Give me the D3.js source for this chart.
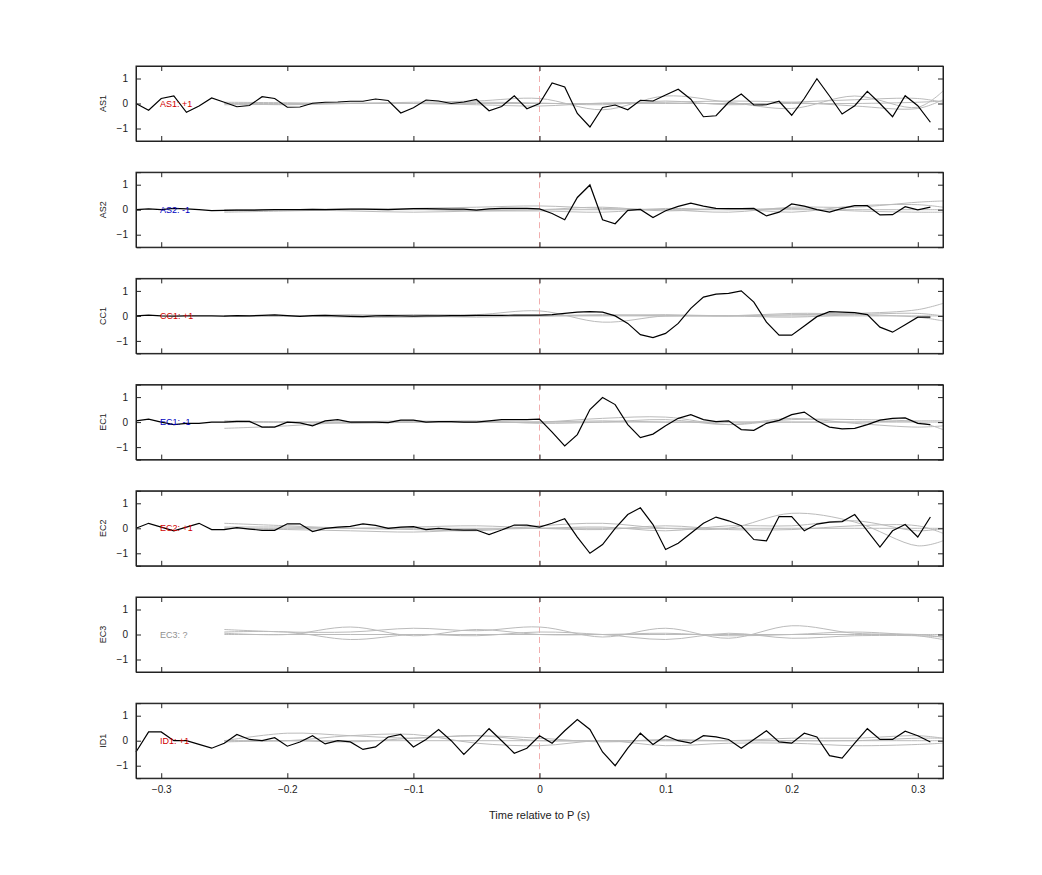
<!DOCTYPE html>
<html><head><meta charset="utf-8">
<script src="https://cdn.jsdelivr.net/npm/d3@7"></script>
<style>body{margin:0;background:#fff}text{font-family:"Liberation Sans",Arial,sans-serif}</style>
</head><body><svg id="c" width="1042" height="875"></svg>
<script>
const channels = ["AS1","AS2","CC1","EC1","EC2","EC3","ID1"];
const labels = ["AS1: +1","AS2: -1","CC1: +1","EC1: -1","EC2: +1","EC3: ?","ID1: +1"];
const labelColors = ["#d00000","#0000c0","#d00000","#0000c0","#d00000","#909090","#d00000"];
const xTicks = [-0.3,-0.2,-0.1,0,0.1,0.2,0.3];
const yTicks = [-1,0,1];
const tBlack = d3.range(64).map(i => -0.32 + i*0.01);
const blackAS1 = [0,-0.27,0.2,0.3,-0.35,-0.1,0.22,0.05,-0.13,-0.08,0.27,0.2,-0.15,-0.14,0.01,0.05,0.06,0.09,0.09,0.18,0.12,-0.38,-0.17,0.14,0.1,0,0.06,0.16,-0.29,-0.12,0.31,-0.21,0,0.82,0.66,-0.4,-0.94,-0.16,-0.06,-0.25,0.13,0.1,0.34,0.57,0.17,-0.53,-0.49,0.05,0.38,-0.06,-0.05,0.09,-0.47,0.2,0.99,0.3,-0.42,-0.09,0.49,0,-0.53,0.31,-0.09,-0.75];
const blackAS2 = [0,0.03,0,0.05,0.03,0,-0.04,-0.03,-0.02,-0.02,-0.01,0,0,0,0.01,0,0.01,0.02,0.02,0.01,0,0.02,0.04,0.04,0.03,0.02,0.02,-0.02,0.03,0.05,0.05,0.05,0.03,-0.15,-0.4,0.49,0.99,-0.4,-0.56,-0.03,0.01,-0.31,-0.04,0.13,0.26,0.14,0.05,0.04,0.04,0.05,-0.25,-0.1,0.23,0.14,0,-0.1,0.05,0.16,0.16,-0.21,-0.2,0.12,-0.01,0.1];
const blackCC1 = [0,0.03,0,-0.01,0,0,0,-0.01,0.01,0,0.02,0.04,0.01,-0.02,0.01,0.02,0,-0.02,-0.03,0,0.01,0,-0.01,0,0,0.01,0.01,0.02,0.02,0.02,0.03,0.03,0.03,0.05,0.1,0.15,0.17,0.15,0,-0.3,-0.75,-0.87,-0.7,-0.3,0.3,0.75,0.87,0.9,1.0,0.55,-0.25,-0.77,-0.77,-0.4,-0.03,0.17,0.15,0.13,0.05,-0.45,-0.65,-0.35,-0.05,-0.05];
const blackEC1 = [0.05,0.12,0,-0.1,-0.05,-0.05,0,0,0.03,0.03,-0.2,-0.2,0,-0.03,-0.15,0.05,0.1,0,0,0,-0.02,0.08,0.08,0,0.02,0.02,0,0,0.05,0.1,0.1,0.1,0.12,-0.4,-0.95,-0.5,0.5,0.98,0.7,-0.1,-0.62,-0.48,-0.15,0.15,0.3,0.1,0.02,0.05,-0.3,-0.33,-0.05,0.07,0.3,0.4,0.05,-0.2,-0.27,-0.25,-0.1,0.08,0.15,0.17,-0.05,-0.1];
const blackEC2 = [0,0.2,0.05,-0.1,0.05,0.2,-0.05,-0.05,0.03,-0.03,-0.08,-0.08,0.18,0.18,-0.13,0,0.05,0.08,0.18,0.12,0,0.05,0.07,-0.05,0,-0.05,-0.07,-0.07,-0.25,-0.07,0.13,0.13,0.05,0.2,0.38,-0.35,-1.0,-0.65,0,0.55,0.82,0.15,-0.85,-0.6,-0.2,0.2,0.45,0.3,0.1,-0.45,-0.5,0.47,0.47,-0.1,0.17,0.25,0.27,0.55,-0.1,-0.75,-0.1,0.15,-0.35,0.45];
const blackID1 = [-0.45,0.35,0.35,0,0,-0.15,-0.3,-0.1,0.25,0.05,0,0.12,-0.22,-0.05,0.2,-0.13,0,-0.05,-0.35,-0.25,0.15,0.25,-0.25,0.05,0.45,0,-0.55,-0.05,0.48,0,-0.5,-0.3,0.2,-0.1,0.4,0.85,0.45,-0.45,-1.0,-0.3,0.3,-0.15,0.2,0,-0.1,0.2,0.15,0.05,-0.3,0.05,0.4,-0.05,-0.1,0.3,0.15,-0.6,-0.7,-0.1,0.48,0.05,0.05,0.38,0.2,-0.05];
const blackSeries = [blackAS1,blackAS2,blackCC1,blackEC1,blackEC2,null,blackID1];
const tGrey = [-0.25,-0.2,-0.15,-0.1,-0.05,0,0.05,0.1,0.15,0.2,0.25,0.3,0.32];
const greyAS1 = [[0,-0.05,0,0.05,0.1,0.2,-0.25,0.3,0.05,-0.2,0.3,-0.15,0.5],[0.05,0.03,0,0,-0.05,-0.1,0.02,0.05,0.1,0.05,-0.1,-0.2,0.15],[0,0,0,0,0,0,0,0,0,0,0,0.05,0.1],[-0.05,-0.03,0.02,0,0.05,0.02,-0.05,0.1,-0.05,0.05,0.15,0.2,0.05]];
const greyAS2 = [[-0.1,-0.05,0,0.05,0.1,0.15,0.05,0,-0.1,0.1,0.1,0.3,0.35],[0,0,-0.05,-0.1,-0.05,0,0.1,-0.05,0.05,-0.1,0.15,0.2,0.1],[0,0,0,0,0,0,0,0,0,0,0,0,0],[-0.05,0,0.03,0.02,-0.05,-0.05,-0.1,0.05,0,0.05,-0.05,-0.1,-0.1]];
const greyCC1 = [[0,0,0,0.05,0.05,0.2,-0.25,0,0,0.1,0.1,0.25,0.5],[0,0,-0.05,-0.05,0,0,0.05,0,0,-0.05,0.05,0.1,0],[0,0,0,0,0,0,0,0,0,0,0,0,0],[0,0,0.05,0,-0.05,0,0.02,0.05,0,0.05,0.05,-0.05,-0.2]];
const greyEC1 = [[-0.25,-0.15,0,0.05,0,0,0.15,0.2,-0.1,0.1,0.1,0,-0.3],[0,0,0,0,0,0,0.05,0,0,0,0,0.05,0.05],[0,0,0,0,0,0,0,0,0,0,0,0,0],[0.05,0,-0.05,0,0.05,-0.05,0,0.1,-0.1,0.15,-0.05,-0.2,-0.15]];
const greyEC2 = [[0.2,0.1,0,-0.05,-0.1,0.1,0.2,0,0,0.6,0.25,-0.7,-0.5],[0,-0.05,-0.1,-0.15,-0.05,0,0.05,-0.1,0.1,0.1,0.3,-0.1,0],[0,0,0,0,0,0,0,0,0,0,0,0,0],[0.05,0.05,0,0.05,0.1,0,-0.05,0.1,-0.05,-0.05,0.1,0.1,-0.2]];
const greyEC3 = [[0.2,0.1,0.1,0.25,0.15,0.3,-0.1,0.25,-0.15,0.35,0.05,0,-0.1],[0.1,0.1,-0.2,0,-0.05,0.1,0,-0.2,0.05,-0.15,-0.05,-0.05,-0.1],[0,0,0,0,0,0,0,0,0,0,0,0,0],[0.05,0,0.3,-0.05,0.2,0,0,0.05,-0.05,0,0.1,-0.05,-0.2]];
const greyID1 = [[0,0.3,0.2,0.1,0.2,0,0,0,0,0,0,0.1,0.1],[0,0,0.2,0.25,-0.1,-0.2,0,-0.2,-0.1,-0.1,-0.2,-0.15,-0.1],[0,0,0,0,0,0,0,0,0,0,0,0,0],[-0.05,0,-0.05,0.1,0.2,0.1,-0.05,0.05,0,0.1,0.1,0.2,0.1]];
const greySeries = [greyAS1,greyAS2,greyCC1,greyEC1,greyEC2,greyEC3,greyID1];

const svg = d3.select("#c");
const L = 136, R = 943, H = 75, tops = channels.map((c,i) => 66 + i*106.2);
const x = d3.scaleLinear().domain([-0.32,0.32]).range([L,R]);
channels.forEach((ch,i) => {
  const g = svg.append("g").attr("transform",`translate(0,${tops[i]})`);
  const y = d3.scaleLinear().domain([-1.5,1.5]).range([H,0]);
  g.append("line").attr("x1",x(0)).attr("x2",x(0)).attr("y1",0).attr("y2",H)
    .attr("stroke","#e99").attr("stroke-dasharray","6,4").attr("stroke-width",0.8);
  const lineG = d3.line().x((d,j)=>x(tGrey[j])).y(d=>y(d)).curve(d3.curveCatmullRom);
  greySeries[i].forEach(s => g.append("path").attr("d",lineG(s)).attr("fill","none")
    .attr("stroke","#bbb").attr("stroke-width",1));
  if (blackSeries[i]) {
    const lineB = d3.line().x((d,j)=>x(tBlack[j])).y(d=>y(d));
    g.append("path").attr("d",lineB(blackSeries[i])).attr("fill","none")
      .attr("stroke","#000").attr("stroke-width",1.2);
  }
  g.append("text").attr("x",160).attr("y",y(0)+3).attr("font-size",9)
    .attr("fill",labelColors[i]).text(labels[i]);
  g.append("g").attr("transform",`translate(${L},0)`).call(d3.axisLeft(y).tickValues(yTicks).tickSize(-5).tickPadding(8).tickFormat(d3.format("d")));
  g.append("g").attr("transform",`translate(${R},0)`).call(d3.axisRight(y).tickValues(yTicks).tickSize(-5).tickFormat(""));
  g.append("g").attr("transform",`translate(0,${H})`).call(d3.axisBottom(x).tickValues(xTicks).tickSize(-5).tickPadding(8).tickFormat(i===6?d3.format(""):""));
  g.append("g").call(d3.axisTop(x).tickValues(xTicks).tickSize(-5).tickFormat(""));
  g.selectAll(".domain").attr("stroke","#222");
  g.selectAll(".tick line").attr("stroke","#222");
  g.selectAll(".tick text").attr("font-size",10).attr("fill","#222");
  g.append("rect").attr("x",L).attr("y",0).attr("width",R-L).attr("height",H).attr("fill","none").attr("stroke","#222");
  g.append("text").attr("transform",`translate(106,${y(0)}) rotate(-90)`).attr("text-anchor","middle")
    .attr("font-size",9).attr("fill","#222").text(ch);
});
svg.append("text").attr("x",(L+R)/2).attr("y",819).attr("text-anchor","middle").attr("font-size",11).attr("fill","#222")
  .text("Time relative to P (s)");
</script></body></html>
